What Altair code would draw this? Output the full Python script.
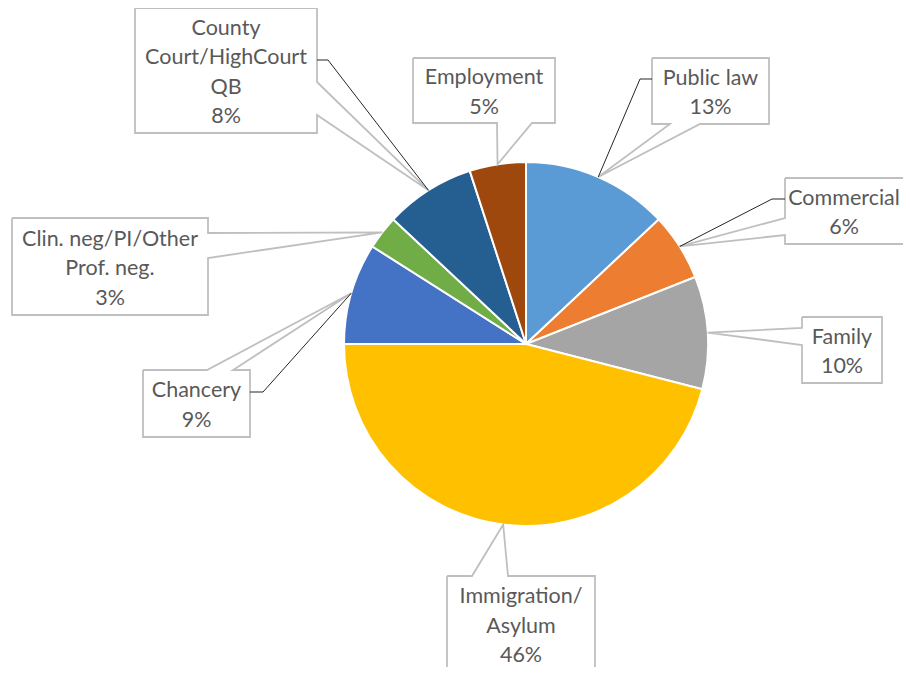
import math
import altair as alt
import pandas as pd

# ---- data ----
categories = ["Public law", "Commercial", "Family", "Immigration/Asylum",
              "Chancery", "Clin. neg/PI/Other Prof. neg.",
              "County Court/HighCourt QB", "Employment"]
shares = [13, 6, 10, 46, 9, 3, 8, 5]
colors = ["#5B9BD5", "#ED7D31", "#A5A5A5", "#FFC000",
          "#4472C4", "#70AD47", "#255E91", "#9E480E"]
label_lines = [["Public law"], ["Commercial"], ["Family"],
               ["Immigration/", "Asylum"], ["Chancery"],
               ["Clin. neg/PI/Other", "Prof. neg."],
               ["County", "Court/HighCourt", "QB"], ["Employment"]]

# ---- layout (page pixel coordinates) ----
W, H = 895, 659
OFF = 8
PIE_CX, PIE_CY, PIE_R = 526, 344, 182
# box x0, y0, x1, y1, wedge side, wedge base a, b, leader start (x, y, elbow x) or None
callouts = [
    (652, 58, 769, 124, "bottom", 670, 700, (652, 79, 640)),
    (785, 178, 915, 244, "left", 218, 235, (785, 199, 772)),
    (802, 317, 882, 383, "left", 328, 345, None),
    (447, 576, 595, 672, "top", 472, 508, None),
    (143, 370, 250, 437, "top", 207, 233, (250, 392, 263)),
    (12, 218, 208, 315, "right", 233, 258, None),
    (135, 8, 317, 133, "right", 82, 115, (317, 60, 328)),
    (413, 58, 555, 123, "bottom", 497, 532, None),
]
LINE_H = 29.5

total = sum(shares)
pie_df = pd.DataFrame({"category": categories, "share": shares,
                       "idx": list(range(len(categories)))})

poly_rows, lead_rows, text_rows = [], [], []
cum = 0
for i, (cat, v) in enumerate(zip(categories, shares)):
    ang = 2 * math.pi * (cum + v / 2) / total
    cum += v
    tx = PIE_CX + PIE_R * math.sin(ang)
    ty = PIE_CY - PIE_R * math.cos(ang)
    x0, y0, x1, y1, side, a, b, lead = callouts[i]
    pts = [(x0, y0)]
    if side == "top":
        pts += [(a, y0), (tx, ty), (b, y0)]
    pts += [(x1, y0)]
    if side == "right":
        pts += [(x1, a), (tx, ty), (x1, b)]
    pts += [(x1, y1)]
    if side == "bottom":
        pts += [(b, y1), (tx, ty), (a, y1)]
    pts += [(x0, y1)]
    if side == "left":
        pts += [(x0, b), (tx, ty), (x0, a)]
    pts += [(x0, y0)]
    for k, (px, py) in enumerate(pts):
        poly_rows.append({"label": cat, "ord": k, "x": px, "y": py})
    if lead is not None:
        lx, ly, ex = lead
        for k, (px, py) in enumerate([(lx, ly), (ex, ly), (tx, ty)]):
            lead_rows.append({"label": cat, "ord": k, "x": px, "y": py})
    lines = label_lines[i] + [f"{v}%"]
    cx = (x0 + min(x1, OFF + W)) / 2
    cy = (y0 + y1) / 2
    n = len(lines)
    for k, t in enumerate(lines):
        text_rows.append({"label": cat, "x": cx,
                          "y": cy + (k - (n - 1) / 2) * LINE_H, "text": t})

poly_df = pd.DataFrame(poly_rows)
lead_df = pd.DataFrame(lead_rows)
text_df = pd.DataFrame(text_rows)

xs = alt.Scale(domain=[OFF, OFF + W], nice=False, zero=False)
ys = alt.Scale(domain=[OFF + H, OFF], nice=False, zero=False)

arc = alt.Chart(pie_df).mark_arc(outerRadius=PIE_R, stroke="white", strokeWidth=2).encode(
    theta=alt.Theta("share:Q", stack=True),
    color=alt.Color("category:N", scale=alt.Scale(domain=categories, range=colors), legend=None),
    order=alt.Order("idx:Q"),
    x=alt.value(PIE_CX - OFF),
    y=alt.value(PIE_CY - OFF),
)

polys = alt.Chart(poly_df).mark_line(fill="white", stroke="#BFBFBF", strokeWidth=1.8,
                                     strokeJoin="miter").encode(
    x=alt.X("x:Q", scale=xs, axis=None),
    y=alt.Y("y:Q", scale=ys, axis=None),
    detail="label:N",
    order="ord:Q",
)

leaders = alt.Chart(lead_df).mark_line(stroke="#262626", strokeWidth=1).encode(
    x=alt.X("x:Q", scale=xs, axis=None),
    y=alt.Y("y:Q", scale=ys, axis=None),
    detail="label:N",
    order="ord:Q",
)

texts = alt.Chart(text_df).mark_text(font="Lato", fontSize=21.5, color="#595959",
                                     align="center", baseline="middle", dy=2.5).encode(
    x=alt.X("x:Q", scale=xs, axis=None),
    y=alt.Y("y:Q", scale=ys, axis=None),
    text="text:N",
)

chart = alt.layer(arc, polys, leaders, texts).properties(
    width=W, height=H, padding=0, autosize="none"
).configure_view(stroke=None)

chart.save("out.html", embed_options={"renderer": "svg", "actions": False})
